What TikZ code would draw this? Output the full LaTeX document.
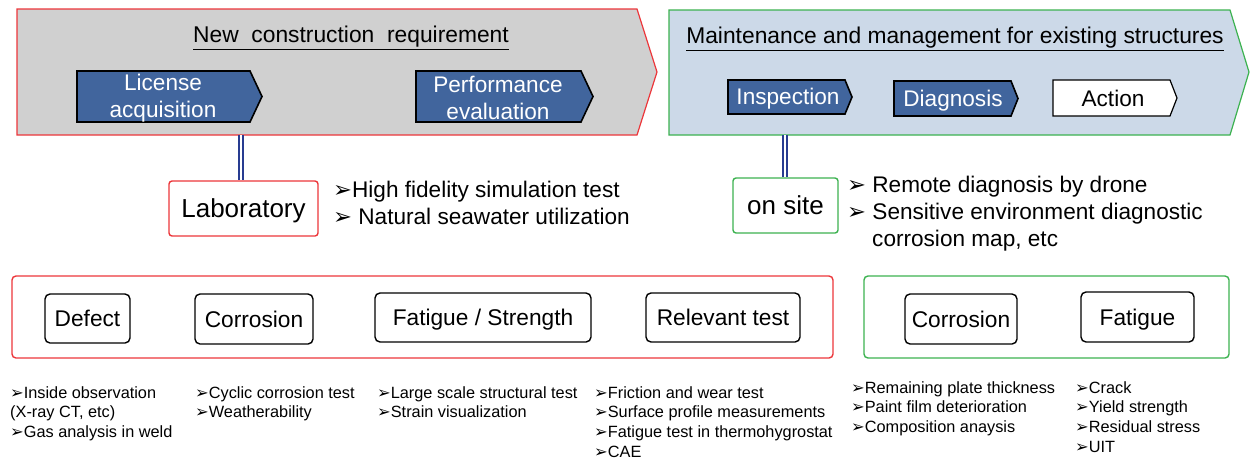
\documentclass[tikz,border=0pt]{standalone}
\usepackage{fontspec}
\setmainfont{Liberation Sans}
\newfontfamily\symf{DejaVu Sans}
\newcommand\bul{{\symf\char"27A2}}
\definecolor{grayfill}{RGB}{208,208,208}
\definecolor{bluefill}{RGB}{204,217,232}
\definecolor{redline}{RGB}{236,54,58}
\definecolor{greenline}{RGB}{60,178,80}
\definecolor{darkbox}{RGB}{65,101,157}
\definecolor{dblline}{RGB}{40,60,145}
\tikzset{
  bigred/.style={draw=redline,fill=grayfill,line width=1.2pt},
  biggreen/.style={draw=greenline,fill=bluefill,line width=1.2pt},
  stepdark/.style={draw=black,fill=darkbox,line width=1.6pt},
  steplight/.style={draw=black,fill=white,line width=1.2pt},
  steptext/.style={text=white,font=\fontsize{22.6}{27}\selectfont,align=center,inner sep=0},
  titletext/.style={font=\fontsize{22.8}{26}\selectfont,inner sep=0},
  placebox/.style={draw,rounded corners=3pt,line width=1.4pt,fill=white,font=\fontsize{26}{30}\selectfont,text height=18.6pt,text depth=0pt},
  groupbox/.style={draw,rounded corners=4pt,line width=1.4pt},
  itembox/.style={draw=black,rounded corners=5pt,line width=1.4pt,font=\fontsize{22.7}{26}\selectfont,text height=16.3pt,text depth=0pt},
  midtext/.style={anchor=base west,inner sep=0,font=\fontsize{22.6}{26}\selectfont},
  listtext/.style={anchor=base west,inner sep=0,font=\fontsize{16.3}{19}\selectfont},
  link/.style={draw=dblline,double=white,double distance=2.2pt,line width=1.6pt}
}
\begin{document}
\begin{tikzpicture}[x=1pt,y=-1pt]
\useasboundingbox (0,0) rectangle (1250,459);
% big arrows
\draw[bigred] (17,9) -- (637,9) -- (657,72) -- (637,135) -- (17,135) -- cycle;
\draw[biggreen] (669,10) -- (1230,10) -- (1249,72) -- (1230,135) -- (669,135) -- cycle;
\coordinate (newbot) at (241,135);
\coordinate (mntbot) at (785,135);
\node[titletext] (t1) at (351,38) {\underline{New\ \ construction\ \ requirement}};
\node[titletext] (t2) at (955,39) {\underline{Maintenance and management for existing structures}};
% step arrows
\draw[stepdark] (77,71) -- (250,71) -- (262,96.5) -- (250,122) -- (77,122) -- cycle;
\node[steptext] (lic) at (163,98) {License\\acquisition};
\draw[stepdark] (416,71) -- (581,71) -- (593,96.5) -- (581,122) -- (416,122) -- cycle;
\node[steptext] (perf) at (498,98) {Performance\\evaluation};
\draw[stepdark] (728,80) -- (845,80) -- (852,97) -- (845,114) -- (728,114) -- cycle;
\node[steptext] (insp) at (788,99) {Inspection};
\draw[stepdark] (894,81) -- (1011,81) -- (1018,98.5) -- (1011,116) -- (894,116) -- cycle;
\node[steptext] (diag) at (953,100.5) {Diagnosis};
\draw[steplight] (1053,80) -- (1170,80) -- (1177,98) -- (1170,116) -- (1053,116) -- cycle;
\node[steptext,text=black] (act) at (1113,98.5) {Action};
% places
\node[placebox,draw=redline,minimum width=149pt,minimum height=55pt] (lab) at (243.5,208.5) {Laboratory};
\node[placebox,draw=greenline,minimum width=105pt,minimum height=55pt] (site) at (785.5,205.5) {on site};
\draw[link] (newbot) -- (lab.north -| newbot);
\draw[link] (mntbot) -- (site.north -| mntbot);
\node[midtext] (m1) at (333,197) {\bul High fidelity simulation test};
\node[midtext] (m2) at (333,224) {\bul\ Natural seawater utilization};
\node[midtext] (m3) at (847,192) {\bul\ Remote diagnosis by drone};
\node[midtext] (m4) at (847,219) {\bul\ Sensitive environment diagnostic};
\node[midtext] (m5) at (872,246) {corrosion map, etc};
% group boxes
\node[groupbox,draw=redline,minimum width=821pt,minimum height=82pt] (gl) at (422.5,317) {};
\node[groupbox,draw=greenline,minimum width=365pt,minimum height=82pt] (gr) at (1046.5,317) {};
\node[itembox,minimum width=85pt,minimum height=49pt] (def) at (87.5,318.5) {Defect};
\node[itembox,minimum width=118pt,minimum height=50pt] (cor) at (254,319) {Corrosion};
\node[itembox,minimum width=216pt,minimum height=49pt] (fat) at (483,317.5) {Fatigue / Strength};
\node[itembox,minimum width=154pt,minimum height=49pt] (rel) at (723,317.5) {Relevant test};
\node[itembox,minimum width=112pt,minimum height=50pt] (cor2) at (961,319) {Corrosion};
\node[itembox,minimum width=113pt,minimum height=50pt] (fat2) at (1137.5,317) {Fatigue};
% lists
\foreach \t [count=\i] in {\bul Inside observation,{(X-ray CT, etc)},\bul Gas analysis in weld}
  \node[listtext] (la\i) at (10,398+19.7*\i-19.7) {\t};
\foreach \t [count=\i] in {\bul Cyclic corrosion test,\bul Weatherability}
  \node[listtext] (lb\i) at (195,398+19.7*\i-19.7) {\t};
\foreach \t [count=\i] in {\bul Large scale structural test,\bul Strain visualization}
  \node[listtext] (lc\i) at (377,398+19.7*\i-19.7) {\t};
\foreach \t [count=\i] in {\bul Friction and wear test,\bul Surface profile measurements,\bul Fatigue test in thermohygrostat,\bul CAE}
  \node[listtext] (ld\i) at (594,398+19.7*\i-19.7) {\t};
\foreach \t [count=\i] in {\bul Remaining plate thickness,\bul Paint film deterioration,\bul Composition anaysis}
  \node[listtext] (le\i) at (851,393+19.7*\i-19.7) {\t};
\foreach \t [count=\i] in {\bul Crack,\bul Yield strength,\bul Residual stress,\bul UIT}
  \node[listtext] (lf\i) at (1075,393+19.7*\i-19.7) {\t};
\end{tikzpicture}
\end{document}
